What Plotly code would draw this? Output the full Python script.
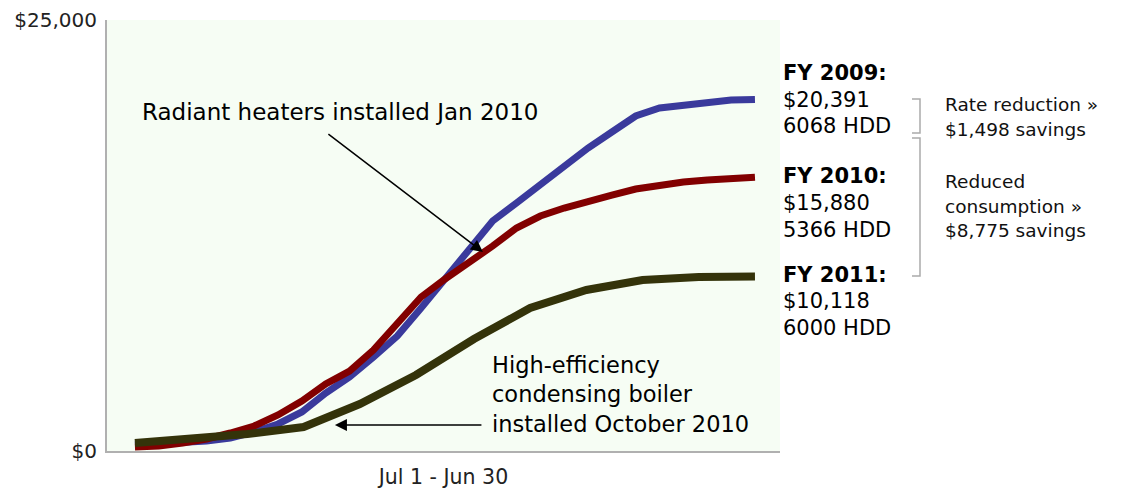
import plotly.graph_objects as go

# Days from Jul 1 (bi-weekly samples for FY2009/FY2010, monthly for FY2011)
days_biweekly = [0, 14, 28, 42, 56, 70, 84, 98, 112, 126, 140, 154, 168, 182,
                 196, 210, 224, 238, 252, 266, 280, 294, 308, 322, 336, 350, 364]
fy2009 = [348, 406, 464, 580, 754, 1102, 1566, 2262, 3364, 4292, 5452, 6670,
          8294, 9976, 11774, 13340, 14384, 15486, 16588, 17574, 18502, 19430,
          19894, 20068, 20184, 20358, 20391]
fy2010 = [232, 290, 464, 696, 1044, 1450, 2088, 2900, 3886, 4640, 5858, 7366,
          8932, 9976, 10904, 11890, 12934, 13630, 14094, 14500, 14848, 15196,
          15428, 15602, 15718, 15834, 15880]
days_monthly = [0, 33, 66, 99, 132, 165, 199, 232, 265, 298, 331, 364]
fy2011 = [464, 696, 986, 1392, 2726, 4408, 6496, 8294, 9338, 9918, 10090, 10118]

y_ticks = [0, 25000]
y_tick_labels = ["$0", "$25,000"]

FONT = "DejaVu Sans"

fig = go.Figure()
fig.add_trace(go.Scatter(x=days_biweekly, y=fy2009, mode="lines",
                         line=dict(color="#3a3a9c", width=7), name="FY 2009"))
fig.add_trace(go.Scatter(x=days_biweekly, y=fy2010, mode="lines",
                         line=dict(color="#820000", width=7), name="FY 2010"))
fig.add_trace(go.Scatter(x=days_monthly, y=fy2011, mode="lines",
                         line=dict(color="#34330a", width=8), name="FY 2011"))

ann = []
# Radiant heaters annotation
ann.append(dict(x=3, y=19662, xref="x", yref="y", text="Radiant heaters installed Jan 2010",
                showarrow=False, xanchor="left", yanchor="middle",
                font=dict(family=FONT, size=23, color="#000")))
ann.append(dict(x=204.3, y=11542, xref="x", yref="y", ax=112.7, ay=18444,
                axref="x", ayref="y", text="", showarrow=True,
                arrowhead=2, arrowsize=1.6, arrowwidth=1.5, arrowcolor="#000"))
# Boiler annotation
ann.append(dict(x=208.4, y=3306, xref="x", yref="y",
                text="High-efficiency<br>condensing boiler<br>installed October 2010",
                showarrow=False, xanchor="left", yanchor="middle", align="left",
                font=dict(family=FONT, size=22.5, color="#000")))
ann.append(dict(x=117.4, y=1508, xref="x", yref="y", ax=204.3, ay=1508,
                axref="x", ayref="y", text="", showarrow=True,
                arrowhead=2, arrowsize=1.6, arrowwidth=1.5, arrowcolor="#000"))

def py2paper(py):
    return (451 - py) / 431

def px2paper(px):
    return (px - 107) / 673

right_labels = [
    ("<b>FY 2009:</b>", 73), ("$20,391", 100), ("6068 HDD", 126),
    ("<b>FY 2010:</b>", 176), ("$15,880", 203), ("5366 HDD", 230),
    ("<b>FY 2011:</b>", 275), ("$10,118", 301), ("6000 HDD", 328),
]
for txt, py in right_labels:
    ann.append(dict(x=px2paper(781), y=py2paper(py), xref="paper", yref="paper",
                    text=txt, showarrow=False, xanchor="left", yanchor="middle",
                    font=dict(family=FONT, size=21, color="#000")))

savings_labels = [
    ("Rate reduction »", 104), ("$1,498 savings", 129),
    ("Reduced", 181), ("consumption »", 206), ("$8,775 savings", 230),
]
for txt, py in savings_labels:
    ann.append(dict(x=px2paper(943), y=py2paper(py), xref="paper", yref="paper",
                    text=txt, showarrow=False, xanchor="left", yanchor="middle",
                    font=dict(family=FONT, size=18.5, color="#111")))

shapes = []
for top, bot in [(99, 133), (138, 276)]:
    shapes.append(dict(type="path", xref="paper", yref="paper",
                       path=f"M {px2paper(912)} {py2paper(top)} L {px2paper(920)} {py2paper(top)} "
                            f"L {px2paper(920)} {py2paper(bot)} L {px2paper(912)} {py2paper(bot)}",
                       line=dict(color="#aaaaaa", width=1.5)))

fig.update_layout(
    width=1124, height=489,
    margin=dict(l=107, r=344, t=20, b=38, autoexpand=False),
    paper_bgcolor="#ffffff",
    plot_bgcolor="#f6fdf4",
    showlegend=False,
    annotations=ann,
    shapes=shapes,
    xaxis=dict(range=[-16.4, 378.7], showticklabels=False, ticks="", showgrid=False,
               zeroline=False, showline=True, linecolor="#b0b0b0", linewidth=2,
               automargin=False,
               title=dict(text="Jul 1 - Jun 30", font=dict(family=FONT, size=20.5, color="#222"),
                          standoff=18)),
    yaxis=dict(range=[0, 25000], tickvals=y_ticks, ticktext=y_tick_labels,
               showgrid=False, zeroline=False, showline=True, linecolor="#b0b0b0",
               linewidth=2, ticks="", ticklabelstandoff=4, automargin=False,
               tickfont=dict(family=FONT, size=20, color="#222")),
)

fig.write_html("out.html", post_script="document.body.style.margin='0px';",
               config={"displayModeBar": False})
